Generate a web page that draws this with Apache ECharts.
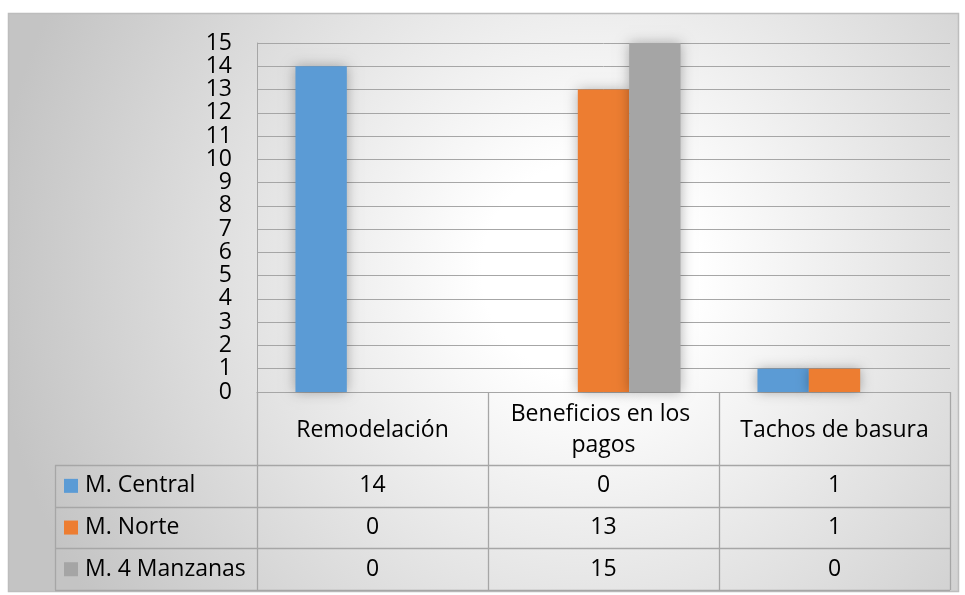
<!DOCTYPE html>
<html>
<head>
<meta charset="utf-8">
<script src="https://cdn.jsdelivr.net/npm/echarts@6/dist/echarts.min.js"></script>
<style>
html,body{margin:0;padding:0;background:#fff;}
#c{width:965px;height:595px;}
</style>
</head>
<body>
<div id="c"></div>
<script>
const categories = ['Remodelación', 'Beneficios en los pagos', 'Tachos de basura'];
const seriesNames = ['M. Central', 'M. Norte', 'M. 4 Manzanas'];
const mCentral = [14, 0, 1];
const mNorte = [0, 13, 1];
const m4Manzanas = [0, 15, 0];
const seriesValues = [mCentral, mNorte, m4Manzanas];
const seriesColors = ['#5B9BD5', '#ED7D31', '#A5A5A5'];
const yMin = 0, yMax = 15, yInterval = 1;

const FONT = 'Open Sans';
const FS = 23;
const GRID = {left: 257, right: 15, top: 43, bottom: 203};
const LINE = '#a6a6a6';

const chart = echarts.init(document.getElementById('c'), null, {renderer: 'canvas'});

const option = {
  animation: false,
  textStyle: {fontFamily: FONT},
  grid: GRID,
  xAxis: {
    type: 'category',
    data: categories,
    axisLine: {show: true, lineStyle: {color: LINE}},
    axisTick: {show: false},
    axisLabel: {
      interval: 0, color: '#000', fontSize: FS, fontFamily: FONT,
      margin: 38, verticalAlign: 'middle', lineHeight: 31,
      width: 212, overflow: 'break', align: 'center'
    }
  },
  yAxis: {
    type: 'value', min: yMin, max: yMax, interval: yInterval,
    axisLine: {show: true, lineStyle: {color: LINE}},
    axisTick: {show: false},
    axisLabel: {color: '#000', fontSize: FS, fontFamily: FONT, margin: 25},
    splitLine: {lineStyle: {color: LINE, width: 1}}
  },
  series: seriesNames.map((n, i) => ({
    name: n, type: 'bar', data: seriesValues[i],
    barGap: '0%', barCategoryGap: '33.3%',
    itemStyle: {color: seriesColors[i], shadowBlur: 12, shadowColor: 'rgba(0,0,0,0.3)'}
  })),
  graphic: []
};
chart.setOption(option);

function buildTable() {
  const g = [];
  // background
  g.push({type: 'rect', z: -100, shape: {x: 8.5, y: 13.5, width: 950, height: 578},
    style: {fill: new echarts.graphic.RadialGradient(590, 270, 600, [
      {offset: 0, color: '#ffffff'}, {offset: 0.18, color: '#ffffff'}, {offset: 1, color: '#c4c4c4'}
    ], true), stroke: '#bdbdbd', lineWidth: 1.5}});
  const x0 = chart.convertToPixel({xAxisIndex: 0}, 0);
  const x1 = chart.convertToPixel({xAxisIndex: 0}, 1);
  const band = x1 - x0;
  const centers = categories.map((c, i) => chart.convertToPixel({xAxisIndex: 0}, i));
  const bounds = [centers[0] - band / 2].concat(centers.map(c => c + band / 2));
  const yBase = chart.convertToPixel({yAxisIndex: 0}, 0);
  const headerH = 73, rowH = 41.7, legLeft = 55;
  const rowTop = yBase + headerH;
  const tableBottom = rowTop + rowH * seriesNames.length;
  const L = (x1_, y1_, x2_, y2_) => g.push({type: 'line', z: 5,
    shape: {x1: x1_, y1: y1_, x2: x2_, y2: y2_}, style: {stroke: LINE, lineWidth: 1.3}});
  bounds.forEach(b => L(Math.round(b) + 0.5, yBase, Math.round(b) + 0.5, tableBottom));
  L(legLeft + 0.5, rowTop, legLeft + 0.5, tableBottom);
  for (let r = 0; r <= seriesNames.length; r++) {
    const y = Math.round(rowTop + r * rowH) + 0.5;
    L(legLeft, y, bounds[bounds.length - 1], y);
  }
  seriesNames.forEach((n, r) => {
    const cy = rowTop + r * rowH + rowH / 2;
    g.push({type: 'rect', z: 6, shape: {x: 64, y: cy - 7, width: 14, height: 14}, style: {fill: seriesColors[r]}});
    g.push({type: 'text', z: 6, x: 85, y: cy, style: {text: n, fill: '#000', font: FS + 'px "' + FONT + '"', verticalAlign: 'middle', align: 'left'}});
    seriesValues[r].forEach((v, c) => {
      g.push({type: 'text', z: 6, x: centers[c], y: cy, style: {text: String(v), fill: '#000', font: FS + 'px "' + FONT + '"', verticalAlign: 'middle', align: 'center'}});
    });
  });
  chart.setOption({graphic: g});
}
buildTable();
</script>
</body>
</html>
